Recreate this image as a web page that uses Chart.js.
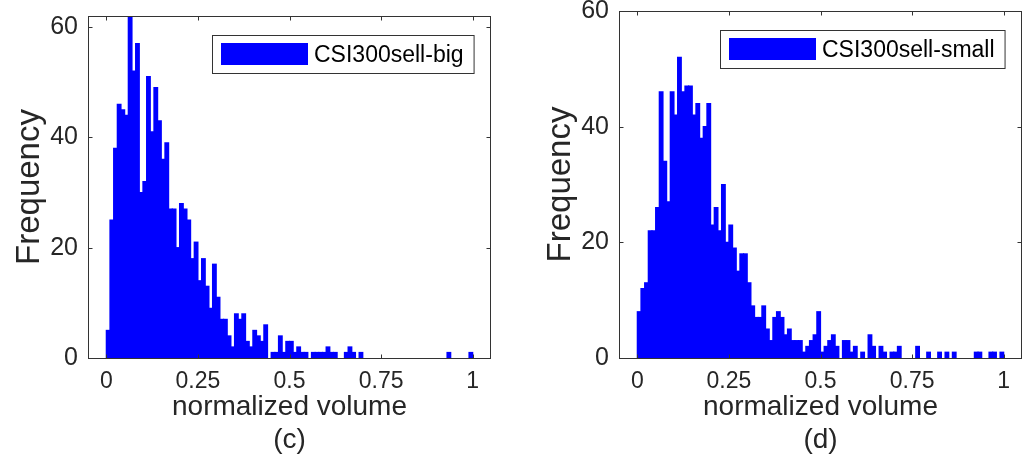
<!DOCTYPE html>
<html>
<head>
<meta charset="utf-8">
<script src="https://cdn.jsdelivr.net/npm/chart.js@4/dist/chart.umd.min.js"></script>
<style>
body { margin: 0; background: #fff; width: 1031px; height: 459px; overflow: hidden; position: relative; }
.panel { position: absolute; top: 0; width: 500px; height: 459px; }
</style>
</head>
<body>
<div class="panel" style="left:0"><canvas id="graphC" width="500" height="459"></canvas></div>
<div class="panel" style="left:531px"><canvas id="graphD" width="500" height="459"></canvas></div>
<script>
// histogram bins: 100 bins of width 0.01 starting at 0
const binStart = 0
const binWidth = 0.01

const bigCounts = [
  5, 25, 38, 46, 45, 44, 62, 52, 57, 30,
  32, 51, 41, 49, 43, 36, 39, 27, 27, 20,
  28, 27, 25, 18, 21, 14, 18, 13, 9, 17,
  11, 7, 7, 4, 2, 8, 7, 8, 3, 2,
  5, 4, 3, 6, 0, 1, 1, 4, 1, 3,
  3, 1, 2, 1, 1, 0, 1, 1, 1, 1,
  2, 1, 1, 0, 0, 1, 2, 1, 0, 1,
  0, 0, 0, 0, 0, 0, 0, 0, 0, 0,
  0, 0, 0, 0, 0, 0, 0, 0, 0, 0,
  0, 0, 0, 1, 0, 0, 0, 0, 0, 1
]
const smallCounts = [
  8, 12, 13, 22, 22, 26, 46, 34, 27, 46,
  42, 52, 46, 47, 47, 42, 44, 38, 40, 44,
  23, 26, 22, 30, 20, 23, 19, 15, 18, 18,
  13, 9, 7, 7, 9, 5, 3, 7, 8, 7,
  4, 5, 3, 3, 3, 1, 2, 3, 4, 8,
  1, 2, 3, 4, 2, 0, 3, 3, 1, 2,
  0, 1, 0, 4, 2, 0, 2, 1, 0, 1,
  1, 2, 0, 0, 0, 0, 2, 0, 0, 1,
  0, 0, 1, 0, 1, 0, 1, 0, 0, 0,
  0, 0, 1, 1, 0, 0, 1, 1, 0, 1
]

const xTicks = [0, 0.25, 0.5, 0.75, 1]
const xTickLabels = ['0', '0.25', '0.5', '0.75', '1']
const yTicks = [0, 20, 40, 60]
const yTickLabels = ['0', '20', '40', '60']
const xLabel = 'normalized volume'
const yLabel = 'Frequency'

const FONT = '"Liberation Sans", Arial, Helvetica, sans-serif'
const TEXT = '#262626'
const BLUE = '#0000ff'

// box around the axes, inward ticks on all four sides, and the boxed legend
const axesBox = {
  id: 'axesBox',
  afterDatasetsDraw(chart) {
    const { ctx, chartArea: a, scales } = chart
    const L = Math.round(a.left) + 0.5, R = Math.round(a.right) - 0.5
    const T = Math.round(a.top) + 0.5, B = Math.round(a.bottom) + 0.5
    ctx.save()
    ctx.strokeStyle = '#333'
    ctx.lineWidth = 1
    ctx.beginPath()
    xTicks.forEach(v => {
      const px = Math.round(scales.x.getPixelForValue(v)) + 0.5
      ctx.moveTo(px, B); ctx.lineTo(px, B - 4)
      ctx.moveTo(px, T); ctx.lineTo(px, T + 4)
    })
    yTicks.forEach(v => {
      const py = Math.round(scales.y.getPixelForValue(v)) + 0.5
      ctx.moveTo(L, py); ctx.lineTo(L + 4, py)
      ctx.moveTo(R, py); ctx.lineTo(R - 4, py)
    })
    ctx.stroke()
    ctx.strokeRect(L, T, R - L, B - T)

    const ds = chart.data.datasets[0]
    ctx.font = '23px ' + FONT
    const tw = ctx.measureText(ds.label).width
    const w = 9 + 87 + 6 + tw + 10, h = 38
    const left = Math.round(a.right - 17 - w) + 0.5
    const top = Math.round(a.top + 19) + 0.5
    ctx.fillStyle = '#fff'
    ctx.fillRect(left, top, w, h)
    ctx.strokeStyle = '#333'
    ctx.strokeRect(left, top, w, h)
    ctx.fillStyle = BLUE
    ctx.fillRect(left + 8.5, top + 7.5, 87, 22)
    ctx.fillStyle = '#000'
    ctx.textBaseline = 'middle'
    ctx.textAlign = 'left'
    ctx.fillText(ds.label, left + 8.5 + 87 + 6, top + h / 2 + 1)
    ctx.restore()
  }
}

function makeChart(id, counts, label, yMax, topPad, caption) {
  const points = counts.map((c, i) => ({ x: binStart + binWidth * (i + 0.5), y: c }))
  return new Chart(document.getElementById(id), {
    type: 'bar',
    data: {
      datasets: [{
        label: label,
        data: points,
        // empty bins get no colour so the overlap does not leave a line on the axis
        backgroundColor: c => (c.raw && c.raw.y > 0) ? BLUE : 'rgba(0,0,0,0)',
        borderWidth: 0,
        inflateAmount: 0.6,
        barPercentage: 1,
        categoryPercentage: 1
      }]
    },
    options: {
      responsive: false,
      animation: false,
      devicePixelRatio: 1,
      layout: { padding: { top: topPad, right: 9, left: 0, bottom: 0 } },
      plugins: { legend: { display: false }, tooltip: { enabled: false } },
      scales: {
        x: {
          type: 'linear',
          offset: false,
          min: -0.05,
          max: 1.05,
          grid: { display: false, drawTicks: false, offset: false },
          border: { display: false },
          afterBuildTicks: s => { s.ticks = xTicks.map(v => ({ value: v })) },
          afterFit: s => { s.height = 101; s.paddingLeft = 0; s.paddingRight = 0 },
          ticks: {
            callback: (v, i) => xTickLabels[i],
            autoSkip: false,
            maxRotation: 0,
            padding: 10,
            color: TEXT,
            font: { family: FONT, size: 23 }
          },
          title: {
            display: true,
            text: [xLabel, caption],
            color: TEXT,
            font: { family: FONT, size: 28, lineHeight: 1.15 },
            padding: { top: 0, bottom: 3 }
          }
        },
        y: {
          min: 0,
          max: yMax,
          grid: { display: false, drawTicks: false },
          border: { display: false },
          afterBuildTicks: s => { s.ticks = yTicks.map(v => ({ value: v })) },
          afterFit: s => { s.width = 88; s.paddingTop = 0; s.paddingBottom = 0 },
          ticks: {
            callback: (v, i) => yTickLabels[i],
            padding: 10,
            color: TEXT,
            font: { family: FONT, size: 25 }
          },
          title: {
            display: true,
            text: yLabel,
            color: TEXT,
            font: { family: FONT, size: 33, lineHeight: 1.2 },
            padding: { top: 10, bottom: 0 }
          }
        }
      }
    },
    plugins: [axesBox]
  })
}

makeChart('graphC', bigCounts, 'CSI300sell-big', 62, 16, '(c)')
makeChart('graphD', smallCounts, 'CSI300sell-small', 60, 11, '(d)')
</script>
</body>
</html>
